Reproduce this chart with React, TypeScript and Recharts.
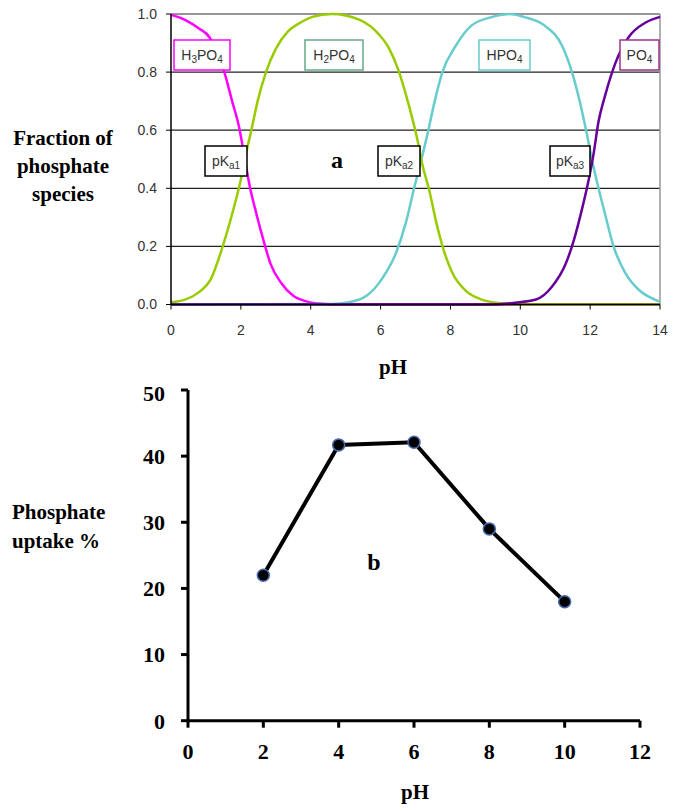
import React from 'react'
import { LineChart, Line, XAxis, YAxis, CartesianGrid, ReferenceLine } from 'recharts'

// speciation curves, values (pH, fraction)
const h3po4Ph = [0, 0.4, 0.8, 1.1, 1.3, 1.5, 1.75, 1.95, 2.1, 2.25, 2.45, 2.65, 2.85, 3.15, 3.5, 3.9, 4.3, 5, 14]
const h3po4Frac = [0.997, 0.98, 0.95, 0.92, 0.87, 0.81, 0.7, 0.61, 0.51, 0.41, 0.31, 0.22, 0.14, 0.075, 0.03, 0.01, 0.003, 0, 0]

const h2po4Ph = [0, 0.4, 0.77, 1.15, 1.48, 1.77, 2.0, 2.15, 2.3, 2.48, 2.72, 3.0, 3.35, 3.7, 4.05, 4.6, 5.4, 5.95, 6.25, 6.5, 6.8, 7.05, 7.2, 7.4, 7.6, 7.8, 8.05, 8.45, 8.9, 9.3, 10, 14]
const h2po4Frac = [0.008, 0.017, 0.04, 0.09, 0.2, 0.32, 0.43, 0.52, 0.6, 0.7, 0.8, 0.88, 0.94, 0.97, 0.99, 1.0, 0.98, 0.93, 0.88, 0.81, 0.69, 0.57, 0.48, 0.39, 0.28, 0.19, 0.11, 0.046, 0.017, 0.006, 0, 0]

const hpo4Ph = [0, 4.6, 5.1, 5.6, 6.05, 6.45, 6.72, 6.96, 7.15, 7.35, 7.55, 7.77, 8.15, 8.6, 9.2, 9.7, 10.1, 10.7, 11.2, 11.48, 11.72, 11.9, 12.05, 12.24, 12.43, 12.67, 13.0, 13.4, 13.85, 14]
const hpo4Frac = [0, 0.002, 0.008, 0.03, 0.09, 0.18, 0.28, 0.4, 0.49, 0.59, 0.7, 0.8, 0.89, 0.96, 0.99, 1.0, 0.99, 0.96, 0.89, 0.8, 0.69, 0.59, 0.5, 0.4, 0.31, 0.2, 0.11, 0.05, 0.017, 0.01]

const po4Ph = [0, 9.1, 9.85, 10.45, 10.9, 11.3, 11.53, 11.77, 11.96, 12.1, 12.24, 12.43, 12.72, 13.1, 13.58, 14]
const po4Frac = [0, 0, 0.006, 0.017, 0.06, 0.14, 0.22, 0.33, 0.43, 0.52, 0.63, 0.72, 0.83, 0.92, 0.97, 0.99]

const topXTicks = [0, 2, 4, 6, 8, 10, 12, 14]
const topYTicks = [0, 0.2, 0.4, 0.6, 0.8, 1.0]

// phosphate uptake vs pH
const uptakePh = [2, 4, 6, 8, 10]
const uptakePct = [22, 41.7, 42.1, 29, 18]
const bottomXTicks = [0, 2, 4, 6, 8, 10, 12]
const bottomYTicks = [0, 10, 20, 30, 40, 50]

const toPoints = (ph: number[], f: number[]) => ph.map((p, i) => ({ ph: p, f: f[i] }))

const SERIES = [
  { name: 'H3PO4', data: toPoints(h3po4Ph, h3po4Frac), color: '#ff00ff' },
  { name: 'HPO4', data: toPoints(hpo4Ph, hpo4Frac), color: '#66cccc' },
  { name: 'H2PO4', data: toPoints(h2po4Ph, h2po4Frac), color: '#99cc00' },
  { name: 'PO4', data: toPoints(po4Ph, po4Frac), color: '#660099' },
]

const uptakeData = uptakePh.map((p, i) => ({ ph: p, pct: uptakePct[i] }))

const SANS = "'Liberation Sans', Arial, sans-serif"
const SERIF = "'Liberation Serif', 'Times New Roman', serif"

// text with subscripts: [text, isSub]
function chem(segs: [string, boolean][]) {
  let prev = false
  return segs.map(([t, sub], i) => {
    const dy = sub === prev ? 0 : sub ? 3 : -3
    prev = sub
    return (
      <tspan key={i} dy={dy} fontSize={sub ? 10 : 14}>
        {t}
      </tspan>
    )
  })
}

function LabelBox({ x, y, w, stroke, segs }: { x: number; y: number; w: number; stroke: string; segs: [string, boolean][] }) {
  return (
    <g>
      <rect x={x} y={y} width={w} height={30} fill="#fff" stroke={stroke} strokeWidth={1.5} />
      <text x={x + w / 2} y={y + 20} textAnchor="middle" fontFamily={SANS} fill="#333">
        {chem(segs)}
      </text>
    </g>
  )
}

export default function App() {
  return (
    <div style={{ position: 'absolute', left: 0, top: 0, width: 682, height: 811, background: '#fff' }}>
      <div style={{ position: 'absolute', left: 0, top: 0 }}>
        <LineChart width={682} height={370} margin={{ top: 14, right: 22, left: 131, bottom: 35.5 }}>
          <CartesianGrid vertical={false} stroke="#222" strokeWidth={1.2} />
          <XAxis
            type="number"
            dataKey="ph"
            domain={[0, 14]}
            ticks={topXTicks}
            height={30}
            tickSize={5}
            tickMargin={16}
            axisLine={{ stroke: '#000', strokeWidth: 1.5 }}
            tickLine={{ stroke: '#000' }}
            tick={{ fill: '#333', fontSize: 14, fontFamily: SANS }}
          />
          <YAxis
            type="number"
            domain={[0, 1]}
            ticks={topYTicks}
            width={40}
            tickSize={5}
            tickMargin={9}
            tickFormatter={(v: number) => v.toFixed(1)}
            axisLine={{ stroke: '#000', strokeWidth: 1.5 }}
            tickLine={{ stroke: '#000' }}
            tick={{ fill: '#333', fontSize: 14, fontFamily: SANS }}
          />
          <ReferenceLine y={1} stroke="#999" strokeWidth={1.5} />
          <ReferenceLine x={14} stroke="#999" strokeWidth={1.5} />
          {SERIES.map((s) => (
            <Line
              key={s.name}
              data={s.data}
              dataKey="f"
              type="monotone"
              stroke={s.color}
              strokeWidth={2.5}
              dot={false}
              isAnimationActive={false}
            />
          ))}
        </LineChart>
      </div>

      <div style={{ position: 'absolute', left: 0, top: 380 }}>
        <LineChart width={682} height={431} margin={{ top: 10, right: 42, left: 138, bottom: 50.3 }}>
          <XAxis
            type="number"
            dataKey="ph"
            domain={[0, 12]}
            ticks={bottomXTicks}
            height={40}
            tickSize={7}
            tickMargin={16}
            axisLine={{ stroke: '#000', strokeWidth: 3 }}
            tickLine={{ stroke: '#000', strokeWidth: 3 }}
            tick={{ fill: '#000', fontSize: 22, fontWeight: 'bold', fontFamily: SERIF }}
          />
          <YAxis
            type="number"
            domain={[0, 50]}
            ticks={bottomYTicks}
            width={50}
            tickSize={7}
            tickMargin={16}
            axisLine={{ stroke: '#000', strokeWidth: 3 }}
            tickLine={{ stroke: '#000', strokeWidth: 3 }}
            tick={{ fill: '#000', fontSize: 22, fontWeight: 'bold', fontFamily: SERIF }}
          />
          <Line
            data={uptakeData}
            dataKey="pct"
            type="linear"
            stroke="#000"
            strokeWidth={4}
            dot={{ r: 6, fill: '#000', stroke: '#4a68b0', strokeWidth: 1.5 }}
            isAnimationActive={false}
          />
        </LineChart>
      </div>

      <svg width={682} height={811} style={{ position: 'absolute', left: 0, top: 0, pointerEvents: 'none' }}>
        <g fontFamily={SERIF} fontWeight="bold" fontSize={21} fill="#000">
          <text x={63} y={145} textAnchor="middle">Fraction of</text>
          <text x={63} y={173} textAnchor="middle">phosphate</text>
          <text x={63} y={201} textAnchor="middle">species</text>
          <text x={393} y={374} textAnchor="middle">pH</text>
          <text x={12} y={519}>Phosphate</text>
          <text x={12} y={548}>uptake %</text>
          <text x={415} y={799} textAnchor="middle">pH</text>
          <text x={337} y={168} textAnchor="middle" fontSize={24}>a</text>
          <text x={374} y={570} textAnchor="middle" fontSize={24}>b</text>
        </g>
        <LabelBox x={174} y={40} w={56} stroke="#ff00ff" segs={[['H', false], ['3', true], ['PO', false], ['4', true]]} />
        <LabelBox x={305} y={40} w={58} stroke="#66aa88" segs={[['H', false], ['2', true], ['PO', false], ['4', true]]} />
        <LabelBox x={479} y={40} w={51} stroke="#66cccc" segs={[['HPO', false], ['4', true]]} />
        <LabelBox x={620} y={40} w={39} stroke="#993388" segs={[['PO', false], ['4', true]]} />
        <LabelBox x={205} y={146} w={42} stroke="#000" segs={[['pK', false], ['a1', true]]} />
        <LabelBox x={378} y={146} w={42} stroke="#000" segs={[['pK', false], ['a2', true]]} />
        <LabelBox x={550} y={146} w={40} stroke="#000" segs={[['pK', false], ['a3', true]]} />
      </svg>
    </div>
  )
}
